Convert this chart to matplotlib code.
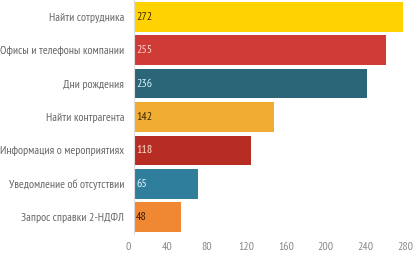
import matplotlib
matplotlib.use("Agg")
import matplotlib.pyplot as plt
import matplotlib.transforms as mtransforms

categories = ["Найти сотрудника", "Офисы и телефоны компании", "Дни рождения",
              "Найти контрагента", "Информация о мероприятиях",
              "Уведомление об отсутствии", "Запрос справки 2-НДФЛ"]
values = [272, 255, 236, 142, 118, 65, 48]
colors = ["#FFD200", "#D13B35", "#2A6678", "#F0AD32", "#B72D24", "#2F7E9C", "#F08833"]
label_colors = ["#3a2a00", "#ffd6d6", "#d8f0ff", "#3a2a00", "#ffe0d0", "#e8f6ff", "#3a1a00"]
xticks = [0, 40, 80, 120, 160, 200, 240, 280]

plt.rcParams["font.family"] = ["PT Sans Narrow", "DejaVu Sans"]

fig = plt.figure(figsize=(4.13, 2.54), dpi=100)
ax = fig.add_axes([134 / 413, 20 / 254, 277 / 413, 234 / 254])

y = range(len(values))
ax.barh(y, values, height=0.89, color=colors)
for i, v in enumerate(values):
    ax.text(2, i, str(v), va="center", ha="left", fontsize=8.6,
            color=label_colors[i])

ax.set_xlim(0, 280)
ax.set_ylim(len(values) - 0.5, -0.5)
ax.set_yticks(list(y))
ax.set_yticklabels(categories, fontsize=8.45, color="#666666")
ax.set_xticks(xticks)
ax.set_xticklabels([str(t) for t in xticks], fontsize=8.5, color="#888888")
ax.tick_params(axis="y", length=0, pad=7)
ax.tick_params(axis="x", length=0, pad=6)

shift = mtransforms.ScaledTranslation(-6 / 100, 0, fig.dpi_scale_trans)
for lab in ax.get_xticklabels():
    lab.set_transform(lab.get_transform() + shift)

for s in ["top", "right", "bottom"]:
    ax.spines[s].set_visible(False)
ax.spines["left"].set_color("#dddddd")
ax.spines["left"].set_linewidth(0.8)

fig.savefig("out.png", dpi=100)
